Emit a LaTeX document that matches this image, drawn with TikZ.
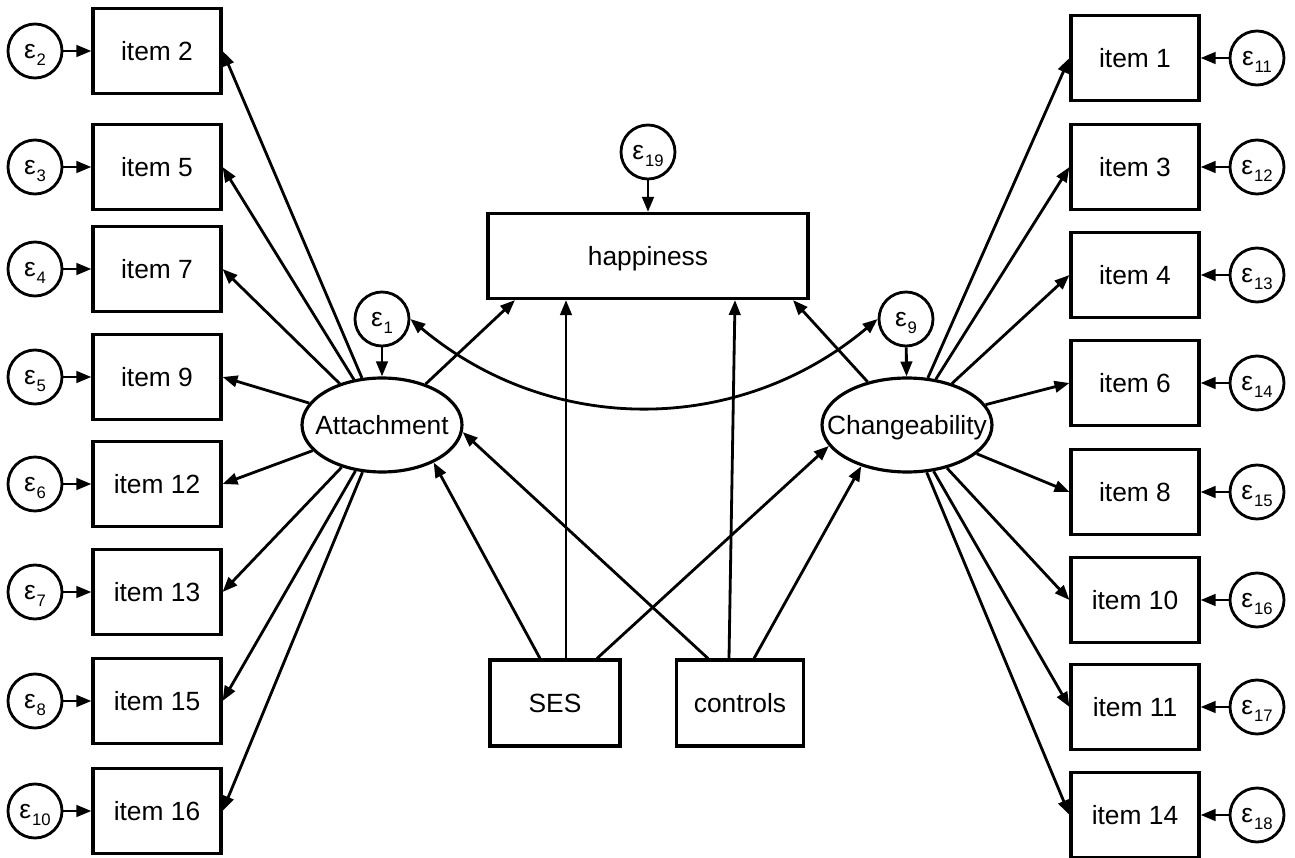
\documentclass[tikz,border=0pt]{standalone}
\usepackage{fontspec}
\setmainfont{Liberation Sans}
\usetikzlibrary{shapes.geometric, arrows.meta, calc}
\tikzstyle{arrow} = [line width=1.6pt,-{Triangle[length=8.5pt,width=6.5pt]}]
\tikzstyle{dblarrow} = [line width=1.6pt,{Triangle[length=8.5pt,width=6.5pt]}-{Triangle[length=8.5pt,width=6.5pt]}]
\tikzstyle{item} = [draw, line width=1.8pt, minimum width=2.56cm, minimum height=1.7cm, inner sep=0pt, text depth=0pt]
\tikzstyle{err} = [draw, circle, line width=1.6pt, minimum size=1.08cm, inner sep=0pt, text depth=0pt]
\tikzstyle{latent} = [draw, ellipse, line width=1.8pt, minimum height=1.88cm, inner sep=0pt]
\newcommand{\eps}[1]{ε\kern0.5pt\raisebox{-0.55ex}{\fontsize{9.5}{10}\selectfont #1}}
\begin{document}
\begin{tikzpicture}[x=0.02cm, y=-0.02cm, every node/.style={font=\fontsize{15}{18}\selectfont}]

        \useasboundingbox (0,0) rectangle (1295,858);

        % Left items
        \node at (157,51) [item] (i2) {item 2};
        \node at (157,167) [item] (i5) {item 5};
        \node at (157,269) [item] (i7) {item 7};
        \node at (157,377) [item] (i9) {item 9};
        \node at (157,484) [item] (i12) {item 12};
        \node at (157,592) [item] (i13) {item 13};
        \node at (157,701) [item] (i15) {item 15};
        \node at (157,811) [item] (i16) {item 16};

        % Left errors
        \node at (35,51) [err] (e2) {\eps{2}};
        \node at (35,167) [err] (e3) {\eps{3}};
        \node at (35,269) [err] (e4) {\eps{4}};
        \node at (35,377) [err] (e5) {\eps{5}};
        \node at (35,484) [err] (e6) {\eps{6}};
        \node at (35,592) [err] (e7) {\eps{7}};
        \node at (35,701) [err] (e8) {\eps{8}};
        \node at (35,811) [err] (e10) {\eps{10}};

        % Right items
        \node at (1135,58) [item] (i1) {item 1};
        \node at (1135,167) [item] (i3) {item 3};
        \node at (1135,275) [item] (i4) {item 4};
        \node at (1135,383) [item] (i6) {item 6};
        \node at (1135,492) [item] (i8) {item 8};
        \node at (1135,600) [item] (i10) {item 10};
        \node at (1135,707) [item] (i11) {item 11};
        \node at (1135,815) [item] (i14) {item 14};

        % Right errors
        \node at (1257,58) [err] (e11) {\eps{11}};
        \node at (1257,167) [err] (e12) {\eps{12}};
        \node at (1257,275) [err] (e13) {\eps{13}};
        \node at (1257,383) [err] (e14) {\eps{14}};
        \node at (1257,492) [err] (e15) {\eps{15}};
        \node at (1257,600) [err] (e16) {\eps{16}};
        \node at (1257,707) [err] (e17) {\eps{17}};
        \node at (1257,815) [err] (e18) {\eps{18}};

        % Middle
        \node at (648,256) [item, minimum width=6.4cm] (hap) {happiness};
        \node at (648,152) [err] (e19) {\eps{19}};
        \node at (382,425) [latent, minimum width=3.2cm, label={[text depth=0pt]center:Attachment}] (att) {};
        \node at (907,425) [latent, minimum width=3.4cm, label={[text depth=0pt]center:Changeability}] (chg) {};
        \node at (382,319) [err] (e1) {\eps{1}};
        \node at (906,319) [err] (e9) {\eps{9}};
        \node at (555,703) [item, minimum width=2.6cm, minimum height=1.72cm] (ses) {SES};
        \node at (740,703) [item, minimum width=2.54cm, minimum height=1.72cm] (ctrl) {controls};

        % Error arrows
        \draw [arrow] (e2) -- (i2);
        \draw [arrow] (e3) -- (i5);
        \draw [arrow] (e4) -- (i7);
        \draw [arrow] (e5) -- (i9);
        \draw [arrow] (e6) -- (i12);
        \draw [arrow] (e7) -- (i13);
        \draw [arrow] (e8) -- (i15);
        \draw [arrow] (e10) -- (i16);
        \draw [arrow] (e11) -- (i1);
        \draw [arrow] (e12) -- (i3);
        \draw [arrow] (e13) -- (i4);
        \draw [arrow] (e14) -- (i6);
        \draw [arrow] (e15) -- (i8);
        \draw [arrow] (e16) -- (i10);
        \draw [arrow] (e17) -- (i11);
        \draw [arrow] (e18) -- (i14);
        \draw [arrow] (e19) -- (hap);
        \draw [arrow] (e1) -- (att);
        \draw [arrow] (e9) -- (chg);

        % Attachment loadings
        \draw [arrow] (att) -- (i2.east);
        \draw [arrow] (att) -- (i5.east);
        \draw [arrow] (att) -- (i7.east);
        \draw [arrow] (att) -- (i9.east);
        \draw [arrow] (att) -- (i12.east);
        \draw [arrow] (att) -- (i13.east);
        \draw [arrow] (att) -- (i15.east);
        \draw [arrow] (att) -- (i16.east);

        % Changeability loadings
        \draw [arrow] (chg) -- (i1.west);
        \draw [arrow] (chg) -- (i3.west);
        \draw [arrow] (chg) -- (i4.west);
        \draw [arrow] (chg) -- (i6.west);
        \draw [arrow] (chg) -- (i8.west);
        \draw [arrow] (chg) -- (i10.west);
        \draw [arrow] (chg) -- (i11.west);
        \draw [arrow] (chg) -- (i14.west);

        % Structural paths
        \draw [arrow] (att) -- ($(hap.south)+(-133,0)$);
        \draw [arrow] (chg) -- ($(hap.south)+(145,0)$);
        \draw [arrow] ($(ses.north)+(11,0)$) -- ($(hap.south)+(-82,0)$);
        \draw [arrow] ($(ctrl.north)+(-11,0)$) -- ($(hap.south)+(87,0)$);
        \draw [arrow] ($(ses.north)+(-15,0)$) -- (att.-36);
        \draw [arrow] ($(ses.north)+(42,0)$) -- (chg.-165);
        \draw [arrow] ($(ctrl.north)+(-32,0)$) -- (att.-5);
        \draw [arrow] ($(ctrl.north)+(14,0)$) -- (chg.-138);

        % Covariance
        \draw [dblarrow] (e1.east) to[out=-40, in=-140] (e9.west);

\end{tikzpicture}
\end{document}
